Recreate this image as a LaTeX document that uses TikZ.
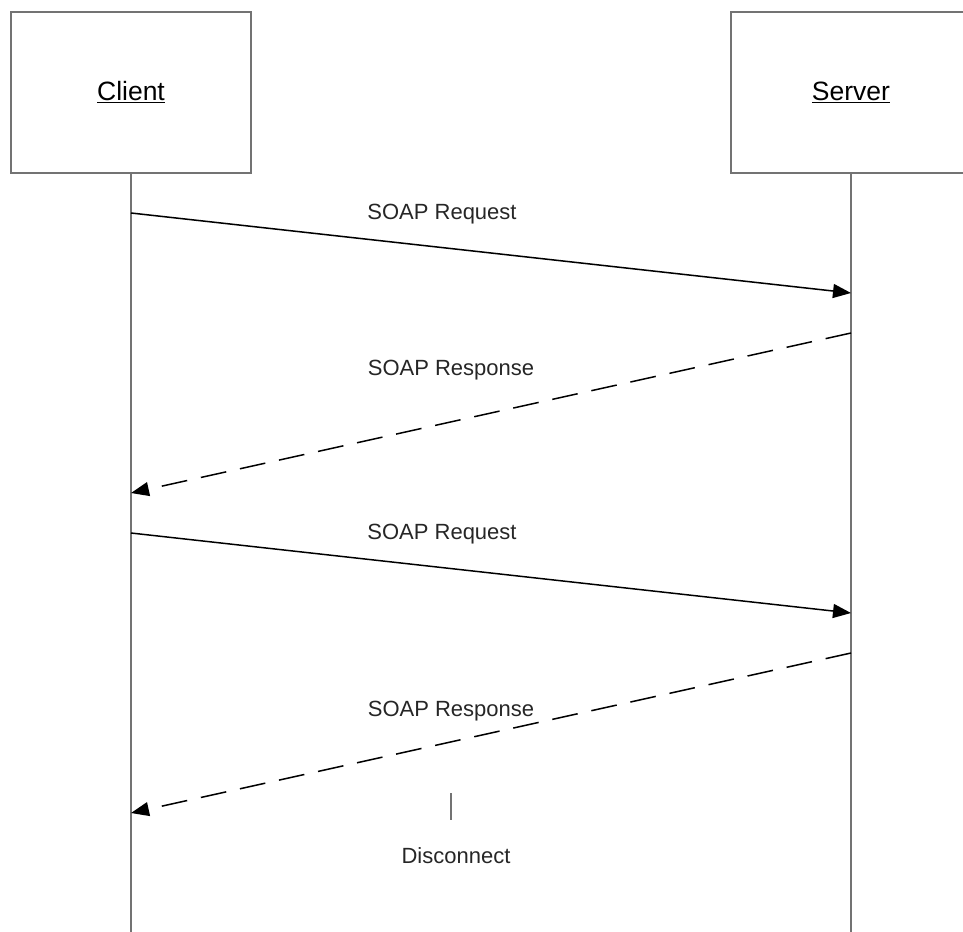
\documentclass[tikz,border=0pt]{standalone}
\usepackage{fontspec}
\setmainfont{Liberation Sans}
\usetikzlibrary{arrows.meta}
\begin{document}
\begin{tikzpicture}[x=1pt,y=-1pt,
  actor/.style={draw=gray!90!black,line width=2pt,minimum width=240pt,minimum height=160pt,inner sep=0pt,font=\fontsize{26.5}{30}\selectfont,fill=white},
  life/.style={draw=gray!90!black,line width=2pt},
  msg/.style={draw=black,line width=1.5pt,-{Triangle[length=18pt,width=14pt]}},
  reply/.style={msg,dash pattern=on 26pt off 14pt},
  lbl/.style={font=\fontsize{22}{26}\selectfont,inner sep=0pt,text=black!85}]
\useasboundingbox (0,0) rectangle (963,931);
\clip (0,0) rectangle (963,931);
\node[actor] (client) at (131,92.5) {\underline{Client}};
\node[actor] (server) at (851,92.5) {\underline{Server}};
\coordinate (cend) at (131,935);
\coordinate (send) at (851,935);
\draw[life] (client.south) -- (cend);
\draw[life] (server.south) -- (send);
\coordinate (c1) at (131,213); \coordinate (s1) at (851,293);
\coordinate (s2) at (851,333); \coordinate (c2) at (131,493);
\coordinate (c3) at (131,533); \coordinate (s3) at (851,613);
\coordinate (s4) at (851,653); \coordinate (c4) at (131,813);
\draw[msg] (c1) -- (s1);
\draw[reply] (s2) -- (c2);
\draw[msg] (c3) -- (s3);
\draw[reply] (s4) -- (c4);
\node[lbl] (l1) at (442,214) {SOAP Request};
\node[lbl] (l2) at (451,370) {SOAP Response};
\node[lbl] (l3) at (442,534) {SOAP Request};
\node[lbl] (l4) at (451,711) {SOAP Response};
\coordinate (d1) at (451,793); \coordinate (d2) at (451,820);
\draw[life,line width=1.5pt] (d1) -- (d2);
\node[lbl] (dis) at (456,856) {Disconnect};
\end{tikzpicture}
\end{document}
